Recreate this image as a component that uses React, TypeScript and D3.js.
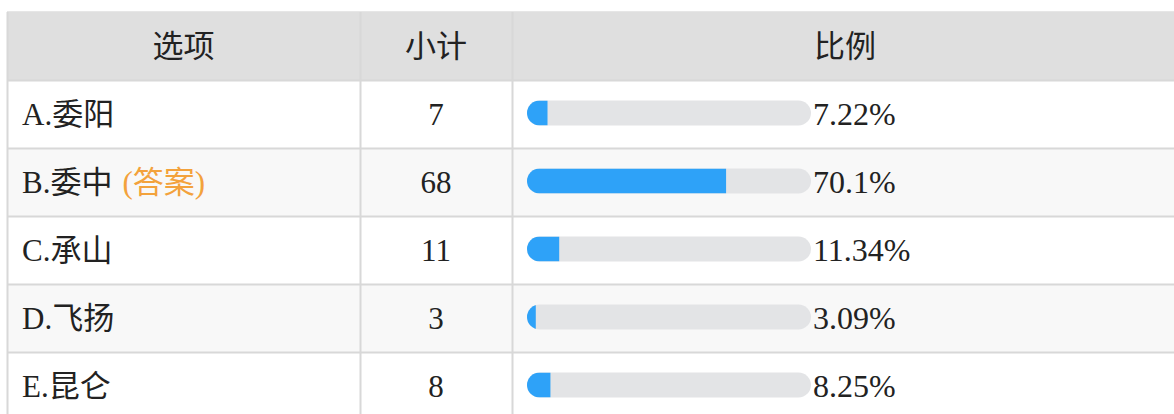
import React from "react";
import * as d3 from "d3";

const headers = ["选项", "小计", "比例"];
const options = ["A.委阳", "B.委中", "C.承山", "D.飞扬", "E.昆仑"];
const answerFlags = [false, true, false, false, false];
const answerTag = "(答案)";
const counts = [7, 68, 11, 3, 8];
const percents = [7.22, 70.1, 11.34, 3.09, 8.25];
const percentLabels = ["7.22%", "70.1%", "11.34%", "3.09%", "8.25%"];

const W = 1174;
const H = 414;
const left = 7;
const top = 12;
const headerH = 68;
const rowH = 68;
const colX = [left, 360, 512, 1178];
const barX = 527;
const barW = 284;
const barH = 25;
const FONT = "'Liberation Serif', 'Times New Roman', 'Noto Sans CJK SC', serif";

export default function App() {
  const y = d3
    .scaleBand<number>()
    .domain(d3.range(options.length))
    .range([top + headerH, top + headerH + rowH * options.length])
    .paddingInner(0)
    .paddingOuter(0);
  const x = d3.scaleLinear().domain([0, 100]).range([0, barW]);

  return (
    <div style={{ position: "absolute", left: 0, top: 0 }}>
      <svg width={W} height={H} style={{ display: "block" }} fontFamily={FONT}>
        <rect x={0} y={0} width={W} height={H} fill="#ffffff" />
        <rect x={left} y={top} width={colX[3] - left} height={headerH} fill="#dfdfdf" />
        {headers.map((h, i) => (
          <text
            key={h}
            x={(colX[i] + colX[i + 1]) / 2}
            y={top + headerH / 2 + 11}
            textAnchor="middle"
            fontSize={31}
            fill="#222"
          >
            {h}
          </text>
        ))}
        {options.map((opt, i) => {
          const y0 = y(i)!;
          const cy = y0 + rowH / 2;
          return (
            <g key={opt}>
              <rect
                x={left}
                y={y0}
                width={colX[3] - left}
                height={rowH}
                fill={i % 2 === 0 ? "#ffffff" : "#f8f8f8"}
              />
              <text x={22} y={cy + 11} fontSize={31} fill="#222">
                {opt}
                {answerFlags[i] ? (
                  <tspan fill="#f3a23c" dx={10}>
                    {answerTag}
                  </tspan>
                ) : null}
              </text>
              <text
                x={(colX[1] + colX[2]) / 2}
                y={cy + 11}
                textAnchor="middle"
                fontSize={31}
                fill="#222"
              >
                {counts[i]}
              </text>
              <clipPath id={`clip${i}`}>
                <rect x={barX} y={cy - barH / 2 - 1} width={barW} height={barH} rx={12.5} ry={12.5} />
              </clipPath>
              <rect
                x={barX}
                y={cy - barH / 2 - 1}
                width={barW}
                height={barH}
                rx={12.5}
                ry={12.5}
                fill="#e3e4e6"
              />
              <rect
                x={barX}
                y={cy - barH / 2 - 1}
                width={x(percents[i])}
                height={barH}
                fill="#2ea2f8"
                clipPath={`url(#clip${i})`}
              />
              <text x={barX + barW + 2} y={cy + 11} fontSize={32} fill="#222">
                {percentLabels[i]}
              </text>
            </g>
          );
        })}
        <line x1={left} x2={colX[3]} y1={top - 0.5} y2={top - 0.5} stroke="#e6e6e6" strokeWidth={1} />
        {options.map((_, i) => (
          <line
            key={"h" + i}
            x1={left}
            x2={colX[3]}
            y1={y(i)! + 0.5}
            y2={y(i)! + 0.5}
            stroke="#d8d8d8"
            strokeWidth={2}
          />
        ))}
        {colX.slice(0, 3).map((cx, i) => (
          <line
            key={"v" + i}
            x1={cx + 0.5}
            x2={cx + 0.5}
            y1={top}
            y2={H}
            stroke="#d8d8d8"
            strokeWidth={2}
          />
        ))}
      </svg>
    </div>
  );
}
